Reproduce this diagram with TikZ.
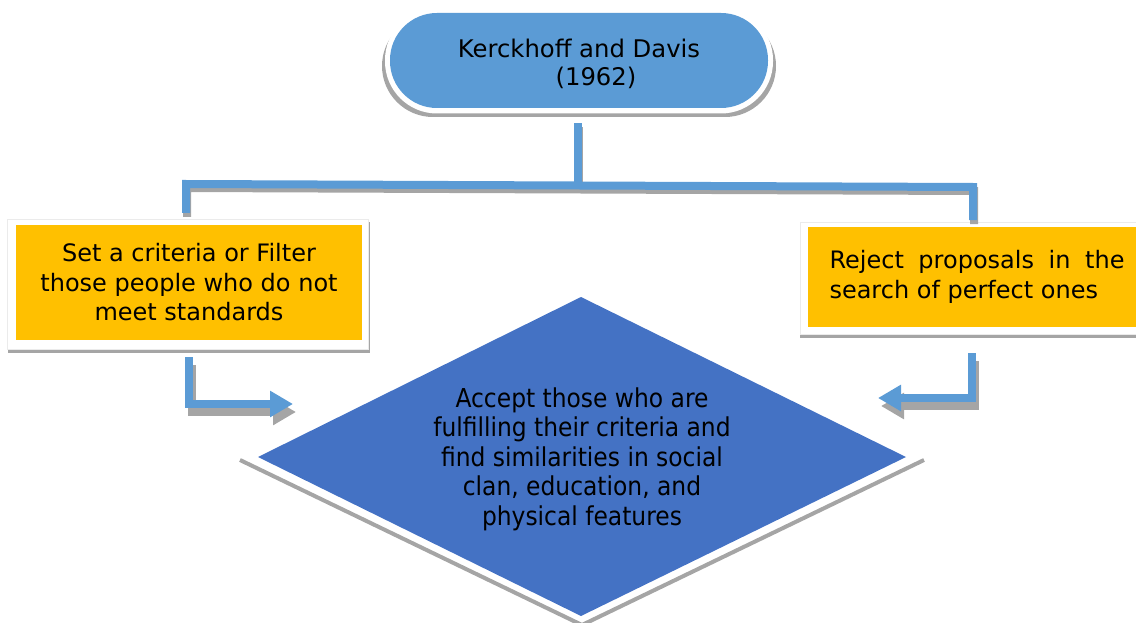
\documentclass[tikz,border=0pt]{standalone}
\usepackage{fontspec}
\setmainfont{DejaVu Sans}
\newfontfamily\narrowfont{DejaVu Sans Condensed}
\usetikzlibrary{arrows.meta,calc}
\definecolor{pillblue}{HTML}{5B9BD5}
\definecolor{deepblue}{HTML}{4472C4}
\definecolor{boxorange}{HTML}{FFC000}
\definecolor{shadowgray}{HTML}{A5A5A5}
\tikzset{
  conn/.style={draw=pillblue, line width=8pt, line join=miter, line cap=butt},
  connshadow/.style={draw=shadowgray, line width=8pt, line join=miter, line cap=butt,
    transform canvas={xshift=1pt, yshift=-4pt}},
  flowtip/.style={-{Triangle[length=23pt,width=25pt]}},
  boxtext/.style={font=\fontsize{24}{29.5}\selectfont, text=black},
  orangebox/.style={fill=boxorange, inner sep=0pt},
}
\begin{document}
\begin{tikzpicture}[x=1pt, y=-1pt]
\useasboundingbox (0,0) rectangle (1136,623);

% ---- source pill with white rim and soft shadow
\fill[shadowgray, rounded corners=51pt] (382,15) rectangle (776,117);
\fill[white, rounded corners=52pt] (385,8) rectangle (773,113.5);
\node[fill=pillblue, rounded corners=47pt, minimum width=378pt, minimum height=95pt, inner sep=0pt] (src) at (579,60.5) {};
\node[boxtext, font=\fontsize{24.3}{28}\selectfont, align=center] (srclabel) at (579,64) {Kerckhoff and Davis\\\hspace*{34pt}(1962)};

% ---- left box
\fill[shadowgray] (8,222) rectangle (370,353);
\filldraw[fill=white, draw=black!8] (7,219) rectangle (368,349);
\node[orangebox, boxtext, align=center, minimum width=346pt, minimum height=115pt] (filt) at (189,282.5)
  {Set a criteria or Filter\\those people who do not\\meet standards};

% ---- right box
\fill[shadowgray] (800,226) rectangle (1146,338);
\filldraw[fill=white, draw=black!8] (800,222) rectangle (1146,334);
\node[orangebox, boxtext, minimum width=338pt, minimum height=100pt] (rej) at (977,277)
  {\parbox{295pt}{Reject proposals in the\linebreak search of perfect ones}};

% ---- decision diamond
\draw[shadowgray, line width=4pt] (240,460) -- (582,625) -- (924,460);
\fill[deepblue] (581,297) -- (906,457) -- (581,616) -- (258,457) -- cycle;
\node[font=\narrowfont\fontsize{26}{29.5}\selectfont, align=center] (acc) at (582,459)
  {Accept those who are\\fulfilling their criteria and\\find similarities in social\\clan, education, and\\physical features};

% ---- branching connectors
\coordinate (busM) at (578,185.5);
\coordinate (busL) at (186,184);
\coordinate (busR) at (973,187);
\coordinate (dropL) at (186,213);
\coordinate (dropR) at (973,220);
\coordinate (srcfoot) at ($(src.south)+(-1,15)$);

\draw[connshadow] (srcfoot) -- (busM);
\draw[connshadow] (dropL) -- (busL) -- (busR) -- (dropR);
\draw[conn] (srcfoot) -- (busM);
\draw[conn] (dropL) -- (busL) -- (busR) -- (dropR);

% ---- arrows into the diamond
\coordinate (leftstart) at ($(filt.south)+(0,17)$);
\coordinate (lefttip) at (293,404);
\coordinate (rightstart) at (972,353);
\coordinate (righttip) at (878,398);

\draw[connshadow, flowtip, transform canvas={xshift=2pt, yshift=-4pt}] (leftstart) |- (lefttip);
\draw[connshadow, flowtip, transform canvas={xshift=2pt, yshift=-4pt}] (rightstart) |- (righttip);
\draw[conn, flowtip] (leftstart) |- (lefttip);
\draw[conn, flowtip] (rightstart) |- (righttip);
\end{tikzpicture}
\end{document}
